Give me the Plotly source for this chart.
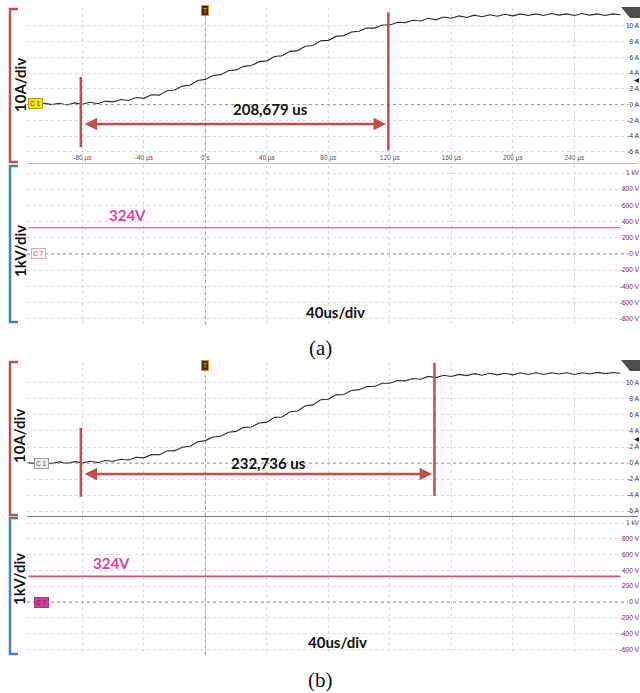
import plotly.graph_objects as go

# ---------------- data ----------------
time_us = [-115, -110, -105, -100, -95, -90, -85, -80, -75, -70, -65, -60, -55, -50, -45, -40,
           -35, -30, -25, -20, -15, -10, -5, 0, 5, 10, 15, 20, 25, 30, 35, 40, 45, 50, 55, 60,
           65, 70, 75, 80, 85, 90, 95, 100, 105, 110, 115, 120, 125, 130, 135, 140, 145, 150,
           155, 160, 165, 170, 175, 180, 185, 190, 195, 200, 205, 210, 215, 220, 225, 230, 235,
           240, 245, 250, 255, 260, 265, 270]

current_a = [0.15, -0.05, 0.20, 0.00, 0.18, -0.05, 0.22, 0.05, 0.30, 0.12,
             0.45, 0.35, 0.65, 0.52, 0.90, 0.80, 1.25, 1.20, 1.75, 1.85,
             2.35, 2.45, 3.05, 3.20, 3.70, 3.80, 4.30, 4.40, 4.85, 4.95,
             5.45, 5.55, 6.10, 6.20, 6.75, 6.85, 7.40, 7.50, 8.10, 8.15,
             8.65, 8.75, 9.20, 9.30, 9.70, 9.70, 10.10, 10.10, 10.45, 10.40,
             10.70, 10.60, 10.95, 10.75, 11.10, 10.95, 11.25, 11.05, 11.35, 11.15,
             11.40, 11.20, 11.45, 11.25, 11.50, 11.30, 11.50, 11.30, 11.55, 11.35,
             11.50, 11.30, 11.55, 11.35, 11.50, 11.30, 11.50, 11.40]

current_b = [0.05, -0.08, 0.10, -0.05, 0.15, -0.02, 0.18, 0.02, 0.22, 0.05,
             0.32, 0.22, 0.48, 0.38, 0.72, 0.65, 1.05, 1.05, 1.50, 1.55,
             1.98, 2.10, 2.65, 2.80, 3.25, 3.35, 3.85, 3.95, 4.45, 4.50,
             5.00, 5.10, 5.70, 5.75, 6.40, 6.50, 7.15, 7.25, 7.90, 7.95,
             8.50, 8.55, 9.05, 9.15, 9.55, 9.55, 9.95, 9.95, 10.30, 10.25,
             10.55, 10.45, 10.80, 10.65, 10.95, 10.80, 11.05, 10.90, 11.15, 10.95,
             11.20, 11.00, 11.20, 11.00, 11.25, 11.05, 11.25, 11.05, 11.25, 11.10,
             11.25, 11.05, 11.25, 11.10, 11.30, 11.15, 11.30, 11.20]

volt_time_us = [-115, -40, 40, 120, 200, 270]
voltage_a = [324, 324, 324, 324, 324, 324]
voltage_b = [324, 324, 324, 324, 324, 324]

cursor_a = [-81, 119]
cursor_b = [-81, 149]
delta_a_label = "208,679 us"
delta_b_label = "232,736 us"

time_ticks = [-80, -40, 0, 40, 80, 120, 160, 200, 240]
time_tick_text = ["-80 µs", "-40 µs", "0 s", "40 µs", "80 µs", "120 µs", "160 µs", "200 µs", "240 µs"]
amp_ticks = [-6, -4, -2, 0, 2, 4, 6, 8, 10]
amp_tick_text = ["-6 A", "-4 A", "-2 A", "0 A", "2 A", "4 A", "6 A", "8 A", "10 A"]
volt_ticks_a = [-800, -600, -400, -200, 0, 200, 400, 600, 800, 1000]
volt_ticks_b = [-600, -400, -200, 0, 200, 400, 600, 800, 1000]
volt_label = {-800: "-800 V", -600: "-600 V", -400: "-400 V", -200: "-200 V", 0: "0 V",
              200: "200 V", 400: "400 V", 600: "600 V", 800: "800 V", 1000: "1 kV"}

# ---------------- helpers ----------------
W, H = 640, 693


def px(x):
    return x / W


def py(y):
    return 1 - y / H


RED = "#c0504d"
BLUE = "#4a7ebb"
PINK = "#d9487a"
MAG = "#e040a8"
GRID = "#dadada"

fig = go.Figure()

fig.add_trace(go.Scatter(x=time_us, y=current_a, mode="lines", xaxis="x", yaxis="y",
                         line=dict(color="#2b2b2b", width=1.1), hoverinfo="skip"))
fig.add_trace(go.Scatter(x=volt_time_us, y=voltage_a, mode="lines", xaxis="x3", yaxis="y2",
                         line=dict(color=PINK, width=1.2), hoverinfo="skip"))
fig.add_trace(go.Scatter(x=time_us, y=current_b, mode="lines", xaxis="x2", yaxis="y3",
                         line=dict(color="#2b2b2b", width=1.1), hoverinfo="skip"))
fig.add_trace(go.Scatter(x=volt_time_us, y=voltage_b, mode="lines", xaxis="x4", yaxis="y4",
                         line=dict(color=PINK, width=1.6), hoverinfo="skip"))

xdom = [px(27), px(638)]
xr = [-116, 281.4]
xcommon = dict(domain=xdom, range=xr, tickvals=time_ticks, showgrid=True, gridcolor=GRID,
               griddash="dot", gridwidth=1, zeroline=False, ticks="", automargin=False,
               fixedrange=True)


def yax(dom, rng, vals, texts, color):
    return dict(domain=dom, range=rng, anchor="free", position=px(639), side="left",
                tickvals=vals, ticktext=texts, ticklabelposition="outside",
                tickfont=dict(family="Liberation Sans", size=6.5, color=color),
                showgrid=True, gridcolor=GRID, griddash="dot", gridwidth=1, zeroline=False,
                ticks="", showline=False, automargin=False, fixedrange=True)


fig.update_layout(
    width=W, height=H, margin=dict(l=0, r=0, t=0, b=0),
    paper_bgcolor="white", plot_bgcolor="white", showlegend=False,
    xaxis=dict(**xcommon, anchor="y", ticktext=time_tick_text, ticklabelposition="inside",
               tickfont=dict(family="Liberation Sans", size=6.5, color="#555"),
               showline=True, linecolor="#c4c4c4", linewidth=1),
    xaxis3=dict(**xcommon, anchor="y2", showticklabels=False, showline=False),
    xaxis2=dict(**xcommon, anchor="y3", showticklabels=False, showline=True,
                linecolor="#777", linewidth=1),
    xaxis4=dict(**xcommon, anchor="y4", showticklabels=False, showline=False),
    yaxis=yax([py(163), py(8)], [-7.4, 12.25], amp_ticks, amp_tick_text, "#333"),
    yaxis2=yax([py(325), py(165)], [-877, 1099], volt_ticks_a,
               [volt_label[v] for v in volt_ticks_a], "#7b2d4f"),
    yaxis3=yax([py(516), py(362)], [-6.6, 12.6], amp_ticks, amp_tick_text, "#333"),
    yaxis4=yax([py(655), py(517)], [-671, 1076], volt_ticks_b,
               [volt_label[v] for v in volt_ticks_b], "#7b2d4f"),
)

shapes = []
ann = []

# zero reference lines (dotted, darker)
for (xref, yref, top, bot) in [("x", "y", 8, 163), ("x3", "y2", 165, 325),
                               ("x2", "y3", 362, 516), ("x4", "y4", 517, 655)]:
    shapes.append(dict(type="line", xref="paper", yref=yref, x0=xdom[0], x1=px(628), y0=0, y1=0,
                       line=dict(color="#9a9a9a", width=1, dash="dot")))
    shapes.append(dict(type="line", xref=xref, yref="paper", x0=0, x1=0, y0=py(bot), y1=py(top),
                       line=dict(color="#9a9a9a", width=1, dash="dot")))

# cursors + measurement arrows
for xref, yref, cur, c1ext, c2ext, arr_y in [
        ("x", "y", cursor_a, (-5.4, 3.5), (-5.8, 11.7), -2.47),
        ("x2", "y3", cursor_b, (-4.2, 4.4), (-4.1, 12.5), -1.37)]:
    shapes.append(dict(type="line", xref=xref, yref=yref, x0=cur[0], x1=cur[0],
                       y0=c1ext[0], y1=c1ext[1], line=dict(color=RED, width=2.5)))
    shapes.append(dict(type="line", xref=xref, yref=yref, x0=cur[1], x1=cur[1],
                       y0=c2ext[0], y1=c2ext[1], line=dict(color=RED, width=2.5)))
    ann.append(dict(x=cur[1] - 1.5, y=arr_y, ax=cur[0] + 1.5, ay=arr_y, xref=xref, yref=yref,
                    axref=xref, ayref=yref, text="", showarrow=True, arrowhead=2,
                    arrowside="end+start", arrowsize=1.0, arrowwidth=2.5, arrowcolor=RED,
                    standoff=0, startstandoff=0))

# left brackets
for top, bot, col in [(9, 162, RED), (166, 322, BLUE), (362, 515, RED), (518, 654, BLUE)]:
    shapes.append(dict(type="path", xref="paper", yref="paper",
                       path=f"M {px(18)},{py(top)} L {px(10)},{py(top)} L {px(10)},{py(bot)} L {px(18)},{py(bot)}",
                       line=dict(color=col, width=2.5)))

# top-right dark tabs
for t in [7, 360]:
    shapes.append(dict(type="path", xref="paper", yref="paper",
                       path=f"M {px(621)},{py(t)} L {px(640)},{py(t)} L {px(640)},{py(t+11)} L {px(630)},{py(t+11)} Z",
                       fillcolor="#4d4d4d", line=dict(width=0)))

BOLD = "Lato"


def text(x, y, s, size, color="#111", angle=0, family=BOLD):
    ann.append(dict(x=px(x), y=py(y), xref="paper", yref="paper", text=s, showarrow=False,
                    textangle=angle, xanchor="center", yanchor="middle",
                    font=dict(family=family, size=size, color=color)))


text(20, 85, "<b>10A/div</b>", 15, angle=-90)
text(20, 251, "<b>1kV/div</b>", 15, angle=-90)
text(19, 436, "<b>10A/div</b>", 15, angle=-90)
text(19, 579, "<b>1kV/div</b>", 15, angle=-90)
text(270, 109, f"<b>{delta_a_label}</b>", 15)
text(268, 463, f"<b>{delta_b_label}</b>", 15)
text(127, 215, "<b>324V</b>", 15, color=MAG)
text(111, 563, "<b>324V</b>", 15, color=MAG)
text(335, 312, "<b>40us/div</b>", 15)
text(337, 642, "<b>40us/div</b>", 15)
text(320, 348, "(a)", 21, family="Liberation Serif")
text(320, 680, "(b)", 21, family="Liberation Serif")


# channel tags
def tag(x, y, s, bg, border, fc):
    ann.append(dict(x=px(x), y=py(y), xref="paper", yref="paper", text=s, showarrow=False,
                    xanchor="center", yanchor="middle", bgcolor=bg, bordercolor=border,
                    borderwidth=1, borderpad=1, font=dict(family="Liberation Sans", size=6.5, color=fc)))


tag(35, 104, "C 1", "#f2e21c", "#b5a400", "#333")
tag(38, 254, "C 7", "#fff5f9", "#e6a3c3", "#a05070")
tag(41, 463, "C 1", "#eeeeee", "#999", "#555")
tag(41, 602, "C 7", "#d0409a", "#b03080", "#6a1040")
tag(205, 11, "T", "#4a2a10", "#e08a20", "#f0b060")
tag(205, 365, "T", "#4a2a10", "#e08a20", "#f0b060")

# offset markers on right (small filled triangles)
for y in [80.5, 439.5]:
    shapes.append(dict(type="path", xref="paper", yref="paper",
                       path=f"M {px(634)},{py(y)} L {px(639)},{py(y - 2.5)} L {px(639)},{py(y + 2.5)} Z",
                       fillcolor="#222", line=dict(width=0)))

fig.update_layout(shapes=shapes, annotations=ann)
# remove the browser's default 8px body margin so the 640x693 figure fills the window exactly
fig.write_html("out.html", config={"displayModeBar": False},
               post_script="document.body.style.margin='0';document.documentElement.style.overflow='hidden';")
